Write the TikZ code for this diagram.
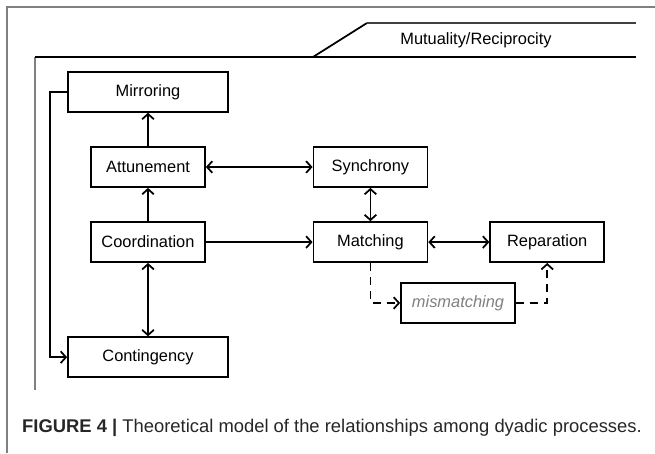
\documentclass[tikz,border=0pt]{standalone}
\usepackage{fontspec}
\setmainfont{Liberation Sans}
\usetikzlibrary{arrows.meta,positioning}

\tikzset{
    procbox/.style={draw,line width=1.5pt,minimum width=3.42cm,minimum height=1.2cm,inner sep=2pt},
    widebox/.style={procbox,minimum width=4.8cm},
    tip/.style={Straight Barb[length=4.5pt,width=10pt,line width=1.5pt]},
    link/.style={line width=1.5pt,-{Straight Barb[length=4.5pt,width=10pt,line width=1.5pt]}},
    duallink/.style={line width=1.5pt,{Straight Barb[length=4.5pt,width=10pt,line width=1.5pt]}-{Straight Barb[length=4.5pt,width=10pt,line width=1.5pt]}},
    dashlink/.style={link,dash pattern=on 7pt off 5pt}
}

\begin{document}
\begin{tikzpicture}[x=0.03cm,y=-0.03cm,font=\fontsize{14}{17}\selectfont]
    \useasboundingbox (0,0) rectangle (655,453);

    %frame
    \draw[gray,line width=1pt] (7,453) -- (7,7) -- (655,7);
    \draw[gray,line width=1pt] (35,390) -- (35,57);
    \draw[line width=1.5pt] (35,57) -- (636,57);
    \draw[line width=1.5pt] (313,57) -- (367,23);
    \draw[darkgray,line width=1pt] (367,23) -- (636,23);
    \node[anchor=center] (mutual) at (476,40) {Mutuality/Reciprocity};

    %processes
    \node[procbox] (attune) at (148,167) {Attunement};
    \node[widebox,above = 1cm of attune] (mirror) {Mirroring};
    \node[procbox,below = 1cm of attune] (coord) {Coordination};
    \node[widebox,below = 2.2cm of coord] (conting) {Contingency};
    \node[procbox,right = 3.2cm of attune] (synch) {Synchrony};
    \node[procbox,right = 3.2cm of coord] (match) {Matching};
    \node[procbox,right = 1.83cm of match] (repar) {Reparation};
    \node[procbox,text=gray,font=\fontsize{14}{17}\selectfont\itshape] (mismatch) at (458,303) {mismatching};

    %solid arrows
    \draw[link] (attune) -- (mirror);
    \draw[link] (coord) -- (attune);
    \draw[link] (coord) -- (match);
    \draw[duallink] (attune) -- (synch);
    \draw[duallink] (synch) -- (match);
    \draw[duallink] (match) -- (repar);
    \draw[duallink] (coord) -- (conting);
    \draw[link] (mirror.west) -- ++(-17,0) |- (conting.west);

    %dashed arrows
    \draw[dashlink] (match.south) |- (mismatch.west);
    \draw[dashlink] (mismatch.east) -| (repar.south);

    %caption
    \node[anchor=west,inner sep=0pt,font=\fontsize{15.7}{18}\selectfont,text=black!85] (caption) at (22,428) {\textbf{FIGURE 4 |} Theoretical model of the relationships among dyadic processes.};
\end{tikzpicture}
\end{document}
